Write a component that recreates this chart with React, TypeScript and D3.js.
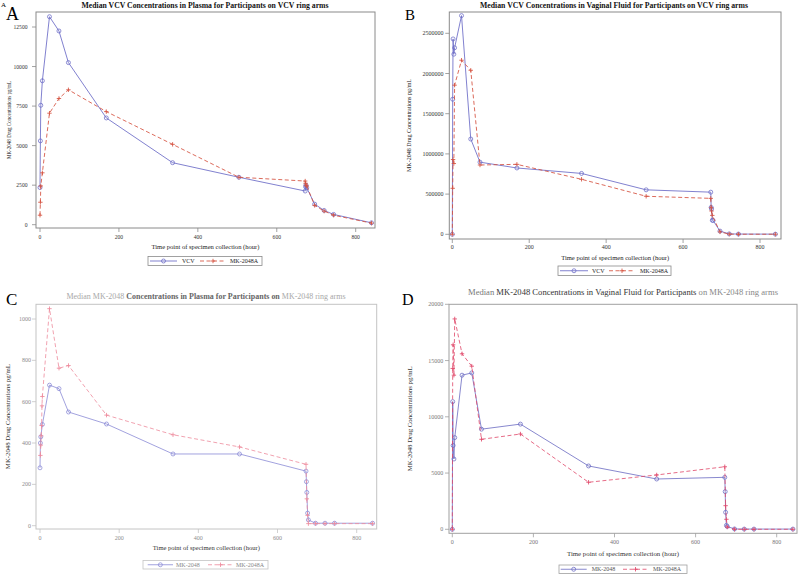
import React from 'react';
import * as d3 from 'd3';

// ---------- shared ----------
const xTickValues = [0, 200, 400, 600, 800];
const xAxisTitle = 'Time point of specimen collection (hour)';
const yAxisTitle = 'MK-2048 Drug Concentrations pg/mL';

// ---------- Panel A: VCV in plasma ----------
const aVcvTime = [0, 1, 2, 6, 24, 48, 72, 168, 336, 504, 672, 673, 674, 676, 696, 720, 744, 840];
const aVcvConc = [2350, 5300, 7550, 9100, 13150, 12250, 10250, 6750, 3920, 3000, 2130, 2400, 2500, 2330, 1300, 900, 650, 120];
const aMkaTime = [0, 1, 2, 6, 24, 48, 72, 168, 336, 504, 672, 673, 674, 676, 696, 720, 744, 840];
const aMkaConc = [600, 1420, 2450, 3280, 7050, 7980, 8530, 7150, 5080, 3000, 2760, 2620, 2500, 2450, 1220, 860, 600, 100];
const aYTicks = [0, 2500, 5000, 7500, 10000, 12500];

// ---------- Panel B: VCV in vaginal fluid ----------
const bVcvTime = [0, 1, 2, 4, 6, 24, 48, 72, 168, 336, 504, 672, 673, 674, 676, 678, 696, 720, 744, 840];
const bVcvConc = [0, 1680000, 2430000, 2240000, 2320000, 2720000, 1185000, 897000, 825000, 757000, 553000, 524000, 335000, 315000, 175000, 172000, 40000, 5000, 3000, 2000];
const bMkaTime = [0, 1, 2, 4, 6, 24, 48, 72, 168, 336, 504, 672, 673, 674, 676, 696, 720, 744, 840];
const bMkaConc = [0, 572000, 930000, 880000, 1855000, 2165000, 2040000, 862000, 870000, 684000, 473000, 447000, 330000, 290000, 235000, 30000, 2000, 1000, 1000];
const bYTicks = [0, 500000, 1000000, 1500000, 2000000, 2500000];

// ---------- Panel C: MK-2048 in plasma ----------
const cMkTime = [0, 1, 2, 6, 24, 48, 72, 168, 336, 504, 672, 673, 674, 676, 678, 696, 720, 744, 840];
const cMkConc = [280, 400, 430, 490, 680, 663, 550, 492, 347, 347, 264, 213, 161, 61, 28, 12, 12, 12, 12];
const cMkaTime = [1, 2, 3, 4, 5, 6, 24, 48, 72, 168, 336, 504, 672, 674, 676, 678, 696, 720, 744, 840];
const cMkaConc = [340, 390, 435, 485, 580, 625, 1050, 762, 775, 535, 440, 381, 297, 130, 50, 10, 10, 10, 10, 10];
const cYTicks = [0, 200, 400, 600, 800, 1000];

// ---------- Panel D: MK-2048 in vaginal fluid ----------
const dMkTime = [0, 1, 2, 4, 6, 24, 48, 72, 168, 336, 504, 672, 673, 674, 676, 678, 696, 720, 744, 840];
const dMkConc = [0, 11350, 7450, 6250, 8150, 13700, 13900, 8900, 9350, 5630, 4470, 4620, 3350, 1510, 350, 250, 30, 20, 20, 20];
const dMkaTime = [0, 1, 2, 4, 6, 24, 48, 72, 168, 336, 504, 672, 674, 676, 678, 696, 720, 744, 840];
const dMkaConc = [0, 14300, 16400, 13700, 18700, 15600, 14500, 8000, 8470, 4180, 4830, 5560, 2100, 890, 200, 0, 0, 0, 0];
const dYTicks = [0, 5000, 10000, 15000, 20000];

const SERIF = "'Liberation Serif', 'DejaVu Serif', serif";

type Series = {
  time: number[];
  conc: number[];
  color: string;
  dash?: string;
  marker: 'o' | '+';
  name: string;
};

type TitlePart = { text: string; fill: string; weight?: string };

type PanelProps = {
  frame: [number, number, number, number];
  xPix: [number, number];
  yPix: [number, number];
  yTop: number;
  yTicks: number[];
  series: Series[];
  title: TitlePart[];
  titleX: number;
  titleY: number;
  titleLen: number;
  titleSize: number;
  tickSize: number;
  tickColor: string;
  yTickRight: number;
  xTickY: number;
  yLabelX: number;
  yLabelLen: number;
  yLabelSize: number;
  xLabelY: number;
  xLabelLen: number;
  labelColor: string;
  frameColor: string;
  legend: { box: [number, number, number, number]; l1: [number, number]; t1: number; l2: [number, number]; t2: number };
  legendColor: string;
  lineWidth: number;
};

function Marker({ x, y, s }: { x: number; y: number; s: Series }) {
  if (s.marker === 'o') {
    return <circle cx={x} cy={y} r={2} fill="none" stroke={s.color} strokeWidth={0.75} />;
  }
  const k = 2.2;
  return (
    <g stroke={s.color} strokeWidth={0.85}>
      <line x1={x - k} x2={x + k} y1={y} y2={y} />
      <line x1={x} x2={x} y1={y - k} y2={y + k} />
    </g>
  );
}

function Panel(p: PanelProps) {
  const [fx0, fy0, fx1, fy1] = p.frame;
  const x = d3.scaleLinear().domain([0, 800]).range(p.xPix);
  const y = d3.scaleLinear().domain([0, p.yTop]).range(p.yPix);
  const line = d3
    .line<[number, number]>()
    .x((d) => x(d[0]))
    .y((d) => y(d[1]));
  const cx = (fx0 + fx1) / 2;
  const cy = (fy0 + fy1) / 2;
  const lg = p.legend;
  const lgMid = lg.box[1] + lg.box[3] / 2;
  return (
    <g fontFamily={SERIF}>
      <text x={p.titleX} y={p.titleY} textAnchor="middle" fontSize={p.titleSize} textLength={p.titleLen} lengthAdjust="spacingAndGlyphs">
        {p.title.map((t, i) => (
          <tspan key={i} fill={t.fill} fontWeight={t.weight || 'normal'}>
            {t.text}
          </tspan>
        ))}
      </text>
      <rect x={fx0} y={fy0} width={fx1 - fx0} height={fy1 - fy0} fill="white" stroke={p.frameColor} strokeWidth={1} />
      {p.yTicks.map((v) => (
        <g key={'y' + v}>
          <line x1={fx0 - 4} x2={fx0} y1={y(v)} y2={y(v)} stroke={p.frameColor} strokeWidth={0.8} />
          <text x={p.yTickRight} y={y(v) + p.tickSize * 0.35} textAnchor="end" fontSize={p.tickSize} fill={p.tickColor}>
            {v}
          </text>
        </g>
      ))}
      {xTickValues.map((v) => (
        <g key={'x' + v}>
          <line x1={x(v)} x2={x(v)} y1={fy1} y2={fy1 + 4} stroke={p.frameColor} strokeWidth={0.8} />
          <text x={x(v)} y={p.xTickY} textAnchor="middle" fontSize={p.tickSize} fill={p.tickColor}>
            {v}
          </text>
        </g>
      ))}
      <text
        transform={`translate(${p.yLabelX},${cy}) rotate(-90)`}
        textAnchor="middle"
        dominantBaseline="middle"
        fontSize={p.yLabelSize}
        fill={p.labelColor}
        textLength={p.yLabelLen}
        lengthAdjust="spacingAndGlyphs"
      >
        {yAxisTitle}
      </text>
      <text x={cx} y={p.xLabelY} textAnchor="middle" fontSize={p.yLabelSize} fill={p.labelColor} textLength={p.xLabelLen} lengthAdjust="spacingAndGlyphs">
        {xAxisTitle}
      </text>
      {p.series.map((s, si) => {
        const pts = s.time.map((t, i) => [t, s.conc[i]] as [number, number]);
        return (
          <g key={'s' + si}>
            <path d={line(pts) || ''} fill="none" stroke={s.color} strokeWidth={p.lineWidth} strokeDasharray={s.dash} />
            {pts.map((d, i) => (
              <Marker key={i} x={x(d[0])} y={y(d[1])} s={s} />
            ))}
          </g>
        );
      })}
      <rect x={lg.box[0]} y={lg.box[1]} width={lg.box[2]} height={lg.box[3]} fill="white" stroke={p.frameColor} strokeWidth={0.8} />
      {[0, 1].map((i) => {
        const s = p.series[i];
        const l = i === 0 ? lg.l1 : lg.l2;
        const tx = i === 0 ? lg.t1 : lg.t2;
        return (
          <g key={'lg' + i}>
            <line x1={l[0]} x2={l[1]} y1={lgMid} y2={lgMid} stroke={s.color} strokeWidth={p.lineWidth} strokeDasharray={s.dash} />
            <Marker x={(l[0] + l[1]) / 2} y={lgMid} s={s} />
            <text x={tx} y={lgMid + 2} fontSize={6} fill={p.legendColor}>
              {s.name}
            </text>
          </g>
        );
      })}
    </g>
  );
}

export default function App() {
  const blue = '#6a6ac6';
  const red = '#d4503f';
  const seriesA: Series[] = [
    { time: aVcvTime, conc: aVcvConc, color: blue, marker: 'o', name: 'VCV' },
    { time: aMkaTime, conc: aMkaConc, color: red, marker: '+', dash: '4,2.5', name: 'MK-2048A' },
  ];
  const seriesB: Series[] = [
    { time: bVcvTime, conc: bVcvConc, color: blue, marker: 'o', name: 'VCV' },
    { time: bMkaTime, conc: bMkaConc, color: red, marker: '+', dash: '4,2.5', name: 'MK-2048A' },
  ];
  const seriesC: Series[] = [
    { time: cMkTime, conc: cMkConc, color: '#8a8ad6', marker: 'o', name: 'MK-2048' },
    { time: cMkaTime, conc: cMkaConc, color: '#ee8a9c', marker: '+', dash: '4,2.5', name: 'MK-2048A' },
  ];
  const seriesD: Series[] = [
    { time: dMkTime, conc: dMkConc, color: '#6a6ac2', marker: 'o', name: 'MK-2048' },
    { time: dMkaTime, conc: dMkaConc, color: '#e04668', marker: '+', dash: '4,2.5', name: 'MK-2048A' },
  ];

  return (
    <svg width={800} height={575} style={{ position: 'absolute', left: 0, top: 0, background: 'white' }}>
      <rect x={0} y={0} width={800} height={575} fill="white" />
      {/* panel letters */}
      <text x={1} y={7} fontFamily={SERIF} fontSize={7} fill="#000">A</text>
      <text x={6} y={20} fontFamily={SERIF} fontSize={18} fill="#000">A</text>
      <text x={405} y={20} fontFamily={SERIF} fontSize={15} fill="#000">B</text>
      <text x={6} y={305} fontFamily={SERIF} fontSize={17} fill="#000">C</text>
      <text x={402} y={305} fontFamily={SERIF} fontSize={16} fill="#000">D</text>

      <Panel
        frame={[36, 12, 375, 228]}
        xPix={[40, 355.7]}
        yPix={[224.7, 27]}
        yTop={12500}
        yTicks={aYTicks}
        series={seriesA}
        title={[{ text: 'Median VCV Concentrations in Plasma for Participants on VCV ring arms', fill: '#111', weight: 'bold' }]}
        titleX={205}
        titleY={7.5}
        titleLen={247}
        titleSize={7.8}
        tickSize={5.6}
        tickColor="#333"
        yTickRight={27.5}
        xTickY={238.5}
        yLabelX={10}
        yLabelLen={78}
        yLabelSize={5.8}
        xLabelY={248.7}
        xLabelLen={108}
        labelColor="#222"
        frameColor="#8a8a8a"
        legend={{ box: [148, 256.5, 114, 9], l1: [150, 177], t1: 182, l2: [200, 226], t2: 230 }}
        legendColor="#222"
        lineWidth={0.85}
      />
      <Panel
        frame={[449.3, 12, 781, 239]}
        xPix={[452.3, 760]}
        yPix={[234.3, 33.3]}
        yTop={2500000}
        yTicks={bYTicks}
        series={seriesB}
        title={[{ text: 'Median VCV Concentrations in Vaginal Fluid for Participants on VCV ring arms', fill: '#111', weight: 'bold' }]}
        titleX={614}
        titleY={7.5}
        titleLen={268}
        titleSize={7.8}
        tickSize={6}
        tickColor="#333"
        yTickRight={443.5}
        xTickY={248.7}
        yLabelX={410}
        yLabelLen={93}
        yLabelSize={6.2}
        xLabelY={259.7}
        xLabelLen={108}
        labelColor="#222"
        frameColor="#8a8a8a"
        legend={{ box: [558, 266, 113, 9.5], l1: [560, 588], t1: 592, l2: [609, 635], t2: 640 }}
        legendColor="#222"
        lineWidth={0.85}
      />
      <Panel
        frame={[36, 304.3, 376.7, 529]}
        xPix={[40, 356.7]}
        yPix={[525.7, 319]}
        yTop={1000}
        yTicks={cYTicks}
        series={seriesC}
        title={[
          { text: 'Median MK-2048 ', fill: '#a8a8a8' },
          { text: 'Concentrations in Plasma for Participants on ', fill: '#666', weight: 'bold' },
          { text: 'MK-2048 ring arms', fill: '#a8a8a8' },
        ]}
        titleX={206}
        titleY={299}
        titleLen={279}
        titleSize={7.4}
        tickSize={6}
        tickColor="#8c8c8c"
        yTickRight={31}
        xTickY={540.3}
        yLabelX={8.5}
        yLabelLen={105}
        yLabelSize={6.8}
        xLabelY={550.3}
        xLabelLen={107}
        labelColor="#333"
        frameColor="#c4c4c4"
        legend={{ box: [143, 560.5, 125, 8.5], l1: [147.7, 173], t1: 176, l2: [208, 233], t2: 236 }}
        legendColor="#888"
        lineWidth={0.8}
      />
      <Panel
        frame={[449, 304.3, 797, 533.3]}
        xPix={[452.3, 776.7]}
        yPix={[529.3, 304.3]}
        yTop={20000}
        yTicks={dYTicks}
        series={seriesD}
        title={[
          { text: 'Median ', fill: '#777' },
          { text: 'MK-2048 Concentrations in Vaginal Fluid for Participants ', fill: '#333' },
          { text: 'on MK-2048 ring arms', fill: '#888' },
        ]}
        titleX={623}
        titleY={295}
        titleLen={310}
        titleSize={7.6}
        tickSize={6}
        tickColor="#777"
        yTickRight={443.3}
        xTickY={543.7}
        yLabelX={410}
        yLabelLen={105}
        yLabelSize={6.8}
        xLabelY={556}
        xLabelLen={112}
        labelColor="#333"
        frameColor="#a0a0a0"
        legend={{ box: [559, 565, 128, 8.5], l1: [560.7, 586.7], t1: 591.7, l2: [623, 648], t2: 653 }}
        legendColor="#555"
        lineWidth={0.8}
      />
    </svg>
  );
}
